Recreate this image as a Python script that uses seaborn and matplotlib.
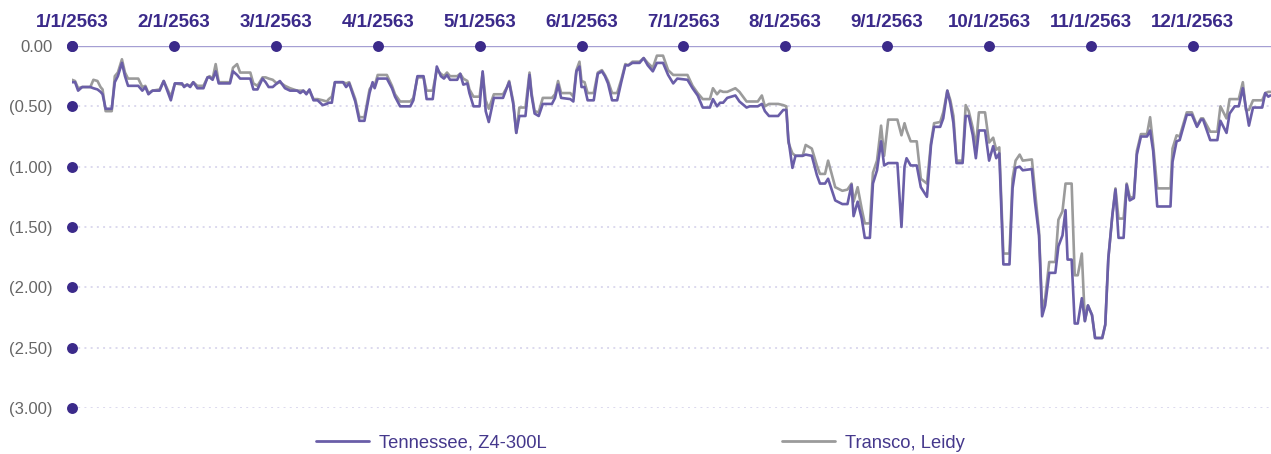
import numpy as np
import pandas as pd
import matplotlib
matplotlib.use("Agg")
import matplotlib.pyplot as plt
import seaborn as sns
from matplotlib.lines import Line2D

# ---------------- data ----------------
month_labels = ["1/1/2563", "2/1/2563", "3/1/2563", "4/1/2563", "5/1/2563", "6/1/2563",
                "7/1/2563", "8/1/2563", "9/1/2563", "10/1/2563", "11/1/2563", "12/1/2563"]
y_ticks = [0.0, -0.5, -1.0, -1.5, -2.0, -2.5, -3.0]

# time in months since 1/1/2563 (month starts are evenly spaced)
t_months = [0.00, 0.03, 0.06, 0.10, 0.18, 0.21, 0.25, 0.28, 0.30, 0.33, 0.39, 0.42, 0.45, 0.49, 0.52,
            0.55, 0.65, 0.69, 0.72, 0.75, 0.79, 0.86, 0.90, 0.97, 1.01, 1.08, 1.10, 1.13, 1.16, 1.19,
            1.23, 1.29, 1.33, 1.35, 1.38, 1.41, 1.44, 1.55, 1.58, 1.62, 1.65, 1.75, 1.78, 1.82, 1.87,
            1.90, 1.93, 1.97, 2.01, 2.04, 2.09, 2.14, 2.21, 2.24, 2.27, 2.30, 2.33, 2.37, 2.41, 2.46,
            2.50, 2.52, 2.55, 2.58, 2.66, 2.69, 2.72, 2.78, 2.82, 2.87, 2.92, 2.95, 2.97, 3.00, 3.09,
            3.14, 3.17, 3.22, 3.32, 3.35, 3.39, 3.45, 3.48, 3.54, 3.58, 3.62, 3.65, 3.68, 3.71, 3.78,
            3.81, 3.84, 3.88, 3.90, 3.94, 4.00, 4.03, 4.06, 4.09, 4.14, 4.16, 4.23, 4.27, 4.29, 4.33,
            4.36, 4.39, 4.45, 4.49, 4.51, 4.54, 4.58, 4.62, 4.71, 4.74, 4.77, 4.80, 4.89, 4.92, 4.95,
            4.98, 5.00, 5.03, 5.06, 5.12, 5.16, 5.20, 5.23, 5.26, 5.30, 5.35, 5.39, 5.43, 5.46, 5.50,
            5.57, 5.61, 5.65, 5.70, 5.74, 5.80, 5.85, 5.90, 5.94, 6.04, 6.09, 6.14, 6.19, 6.26, 6.29,
            6.33, 6.36, 6.39, 6.43, 6.51, 6.55, 6.62, 6.65, 6.73, 6.77, 6.80, 6.84, 6.93, 6.98, 7.01,
            7.03, 7.07, 7.10, 7.17, 7.20, 7.26, 7.31, 7.34, 7.39, 7.42, 7.49, 7.56, 7.61, 7.65, 7.67,
            7.71, 7.75, 7.78, 7.83, 7.86, 7.90, 7.94, 7.97, 8.01, 8.10, 8.14, 8.17, 8.19, 8.23, 8.29,
            8.33, 8.39, 8.43, 8.46, 8.52, 8.55, 8.59, 8.62, 8.65, 8.68, 8.74, 8.77, 8.80, 8.84, 8.87,
            8.90, 8.96, 9.00, 9.04, 9.07, 9.10, 9.14, 9.20, 9.23, 9.26, 9.30, 9.33, 9.42, 9.45, 9.49,
            9.52, 9.55, 9.59, 9.65, 9.68, 9.72, 9.75, 9.77, 9.81, 9.84, 9.87, 9.91, 9.94, 9.97, 10.01,
            10.04, 10.11, 10.14, 10.17, 10.21, 10.24, 10.27, 10.32, 10.35, 10.38, 10.42, 10.45, 10.49, 10.55, 10.58,
            10.61, 10.65, 10.78, 10.80, 10.84, 10.87, 10.94, 10.99, 11.04, 11.08, 11.10, 11.17, 11.24, 11.27, 11.33,
            11.36, 11.41, 11.45, 11.49, 11.52, 11.55, 11.59, 11.68, 11.71, 11.74, 11.76]

tennessee = [-0.30, -0.30, -0.37, -0.34, -0.34, -0.35, -0.36, -0.38, -0.40, -0.52, -0.52, -0.30, -0.25, -0.14, -0.25,
             -0.33, -0.33, -0.37, -0.34, -0.40, -0.37, -0.37, -0.29, -0.45, -0.31, -0.31, -0.34, -0.32, -0.34, -0.30,
             -0.35, -0.35, -0.26, -0.26, -0.28, -0.21, -0.31, -0.31, -0.21, -0.24, -0.27, -0.27, -0.36, -0.36, -0.27,
             -0.30, -0.34, -0.34, -0.31, -0.29, -0.35, -0.37, -0.37, -0.39, -0.37, -0.40, -0.36, -0.45, -0.45, -0.49,
             -0.48, -0.47, -0.47, -0.30, -0.30, -0.34, -0.31, -0.46, -0.62, -0.62, -0.39, -0.30, -0.35, -0.27, -0.27,
             -0.35, -0.42, -0.50, -0.50, -0.45, -0.25, -0.25, -0.44, -0.44, -0.17, -0.25, -0.27, -0.24, -0.28, -0.28,
             -0.23, -0.32, -0.31, -0.39, -0.50, -0.50, -0.21, -0.54, -0.63, -0.43, -0.43, -0.43, -0.34, -0.30, -0.48,
             -0.72, -0.58, -0.58, -0.24, -0.41, -0.56, -0.58, -0.48, -0.48, -0.43, -0.32, -0.43, -0.44, -0.46, -0.21,
             -0.17, -0.34, -0.34, -0.45, -0.45, -0.23, -0.21, -0.25, -0.31, -0.45, -0.45, -0.30, -0.16, -0.16, -0.14,
             -0.14, -0.10, -0.16, -0.21, -0.14, -0.14, -0.24, -0.31, -0.27, -0.28, -0.35, -0.41, -0.51, -0.51, -0.44,
             -0.50, -0.47, -0.47, -0.43, -0.41, -0.46, -0.51, -0.50, -0.50, -0.48, -0.54, -0.58, -0.58, -0.53, -0.53,
             -0.77, -1.01, -0.91, -0.91, -0.90, -0.91, -1.07, -1.14, -1.14, -1.10, -1.28, -1.31, -1.31, -1.15, -1.41,
             -1.29, -1.43, -1.59, -1.59, -1.14, -1.03, -0.79, -0.99, -0.97, -0.97, -1.50, -1.00, -0.93, -0.99, -0.99,
             -1.17, -1.25, -0.82, -0.67, -0.67, -0.60, -0.37, -0.48, -0.64, -0.97, -0.97, -0.58, -0.58, -0.74, -0.93,
             -0.70, -0.70, -0.95, -0.83, -0.93, -0.89, -1.81, -1.81, -1.18, -1.01, -1.00, -1.03, -1.02, -1.29, -1.57,
             -2.24, -2.15, -1.88, -1.88, -1.66, -1.57, -1.36, -1.77, -1.77, -2.30, -2.30, -2.09, -2.28, -2.15, -2.23,
             -2.42, -2.42, -2.31, -1.76, -1.40, -1.19, -1.59, -1.59, -1.15, -1.28, -1.26, -0.90, -0.75, -0.75, -0.70,
             -0.87, -1.33, -1.33, -0.96, -0.79, -0.78, -0.57, -0.57, -0.67, -0.61, -0.61, -0.78, -0.78, -0.62, -0.72,
             -0.56, -0.50, -0.50, -0.35, -0.51, -0.66, -0.51, -0.51, -0.39, -0.42, -0.41]

transco = [-0.28, -0.29, -0.35, -0.34, -0.34, -0.28, -0.29, -0.34, -0.36, -0.54, -0.54, -0.25, -0.22, -0.11, -0.22,
           -0.27, -0.27, -0.34, -0.33, -0.39, -0.37, -0.36, -0.29, -0.42, -0.31, -0.32, -0.33, -0.32, -0.33, -0.30,
           -0.33, -0.33, -0.26, -0.25, -0.27, -0.15, -0.30, -0.30, -0.18, -0.15, -0.22, -0.22, -0.31, -0.33, -0.26,
           -0.26, -0.27, -0.28, -0.31, -0.30, -0.33, -0.35, -0.37, -0.37, -0.37, -0.39, -0.37, -0.44, -0.44, -0.45,
           -0.46, -0.44, -0.42, -0.30, -0.30, -0.31, -0.30, -0.44, -0.59, -0.59, -0.36, -0.32, -0.33, -0.24, -0.24,
           -0.33, -0.40, -0.46, -0.46, -0.43, -0.26, -0.26, -0.37, -0.37, -0.20, -0.23, -0.25, -0.22, -0.25, -0.25,
           -0.23, -0.27, -0.29, -0.36, -0.42, -0.42, -0.22, -0.45, -0.52, -0.40, -0.40, -0.40, -0.34, -0.29, -0.46,
           -0.72, -0.51, -0.51, -0.22, -0.39, -0.54, -0.55, -0.43, -0.43, -0.40, -0.29, -0.39, -0.39, -0.42, -0.20,
           -0.13, -0.29, -0.30, -0.39, -0.39, -0.22, -0.20, -0.24, -0.29, -0.39, -0.39, -0.28, -0.15, -0.16, -0.13,
           -0.13, -0.10, -0.14, -0.18, -0.08, -0.08, -0.20, -0.24, -0.24, -0.24, -0.33, -0.39, -0.44, -0.44, -0.35,
           -0.40, -0.37, -0.38, -0.38, -0.35, -0.38, -0.46, -0.46, -0.46, -0.41, -0.50, -0.48, -0.48, -0.49, -0.50,
           -0.80, -0.89, -0.91, -0.91, -0.82, -0.85, -0.99, -1.06, -1.06, -0.95, -1.17, -1.20, -1.19, -1.14, -1.29,
           -1.17, -1.35, -1.47, -1.47, -1.05, -0.95, -0.66, -0.91, -0.61, -0.61, -0.74, -0.64, -0.70, -0.79, -0.79,
           -1.10, -1.14, -0.80, -0.64, -0.63, -0.55, -0.37, -0.45, -0.58, -0.95, -0.95, -0.49, -0.54, -0.68, -0.84,
           -0.55, -0.55, -0.80, -0.76, -0.86, -0.84, -1.72, -1.72, -1.10, -0.95, -0.90, -0.95, -0.94, -1.20, -1.54,
           -2.17, -2.09, -1.79, -1.79, -1.44, -1.37, -1.14, -1.14, -1.14, -1.90, -1.90, -1.72, -2.28, -2.15, -2.23,
           -2.42, -2.42, -2.31, -1.76, -1.40, -1.18, -1.43, -1.43, -1.14, -1.25, -1.26, -0.87, -0.73, -0.73, -0.59,
           -0.82, -1.18, -1.18, -0.85, -0.74, -0.75, -0.55, -0.55, -0.66, -0.60, -0.60, -0.71, -0.71, -0.50, -0.60,
           -0.44, -0.44, -0.44, -0.30, -0.53, -0.53, -0.45, -0.45, -0.39, -0.38, -0.38]

series_names = ["Tennessee, Z4-300L", "Transco, Leidy"]

assert len(t_months) == len(tennessee) == len(transco)

# ---------------- style ----------------
PURPLE = "#6a5ea8"
GRAY = "#9b9b9b"
DOT = "#3b2a8a"
ZERO_LINE = "#a59fd3"
GRID = "#dcd9ee"
LABEL_GRAY = "#666666"
LEGEND_TEXT = "#45388c"

sns.set_theme(style="white")
plt.rcParams['font.family'] = ['Liberation Sans', 'DejaVu Sans']

W, H = 1271, 454
fig = plt.figure(figsize=(W / 100, H / 100), dpi=100)
ax = fig.add_axes([72 / W, 1 - 408 / H, (W - 72) / W, (408 - 46) / H])

df = pd.DataFrame({
    "t": t_months * 2,
    "value": tennessee + transco,
    "series": [series_names[0]] * len(t_months) + [series_names[1]] * len(t_months),
})

sns.lineplot(data=df[df["series"] == series_names[1]], x="t", y="value", color=GRAY,
             lw=1.9, ax=ax, estimator=None, legend=False, zorder=3)
sns.lineplot(data=df[df["series"] == series_names[0]], x="t", y="value", color=PURPLE,
             lw=1.9, ax=ax, estimator=None, legend=False, zorder=4)

# grid lines
for yv in y_ticks[1:]:
    ax.axhline(yv, color=GRID, lw=1.4, ls=(0, (1, 2.2)), zorder=1)
ax.axhline(0, color=ZERO_LINE, lw=1.0, zorder=2)

month_pos = np.arange(len(month_labels))
ax.scatter(month_pos, np.zeros(len(month_pos)), s=62, color=DOT, zorder=6, clip_on=False, linewidths=0)
ax.scatter(np.zeros(len(y_ticks)), y_ticks, s=62, color=DOT, zorder=6, clip_on=False, linewidths=0)

ax.set_xlim(0, (W - 72) / 101.9)
ax.set_ylim(-3, 0)

ax.xaxis.tick_top()
ax.set_xticks(month_pos)
ax.set_xticklabels(month_labels, fontsize=13.5, fontweight="bold", color=DOT)
ax.set_yticks(y_ticks)
ax.set_yticklabels(["0.00" if v == 0 else f"({abs(v):.2f})" for v in y_ticks],
                   fontsize=12, color=LABEL_GRAY)
ax.tick_params(axis="x", length=0, pad=11)
ax.tick_params(axis="y", length=0, pad=14)
ax.set_xlabel("")
ax.set_ylabel("")
for s in ax.spines.values():
    s.set_visible(False)
ax.grid(False)

handles = [Line2D([], [], color=PURPLE, lw=2.0), Line2D([], [], color=GRAY, lw=2.0)]
leg = fig.legend(handles, series_names, loc="center", bbox_to_anchor=(640.5 / W, 1 - 443 / H),
                 ncol=2, frameon=False, fontsize=13.2, handlelength=2.9, handletextpad=0.55,
                 columnspacing=12.8)
for txt in leg.get_texts():
    txt.set_color(LEGEND_TEXT)

fig.savefig("out.png", dpi=100)
